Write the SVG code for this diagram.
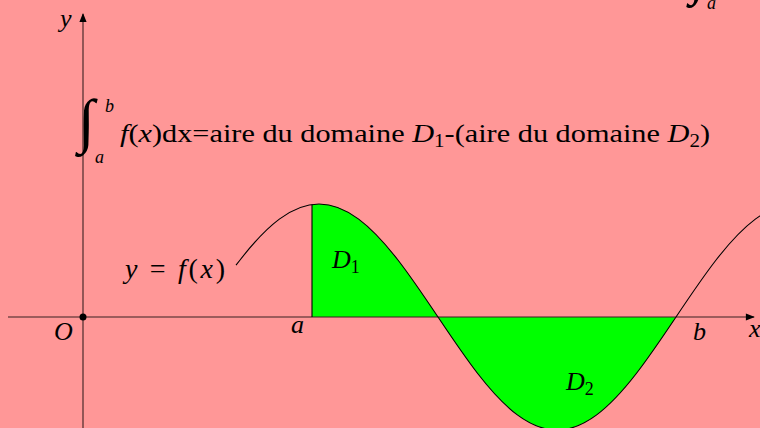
<svg xmlns="http://www.w3.org/2000/svg" width="760" height="428" viewBox="0 0 760 428">
<defs>
<style>
.t{font-family:"Liberation Serif","DejaVu Serif",serif;fill:#000;font-size:26px}
.i{font-style:italic}
.s{font-size:18px;font-style:normal}
.ax{stroke:#3a2020;stroke-width:1.1;fill:none}
.cv{stroke:#000;stroke-width:1.1;fill:none}
.fill{fill:#00ff00;stroke:none}
</style>
<marker id="arr" viewBox="0 0 10 10" refX="9" refY="5" markerWidth="10" markerHeight="9" markerUnits="userSpaceOnUse" orient="auto"><path d="M0,1 L10,5 L0,9 Z" fill="#000"/></marker>
</defs>
<rect x="0" y="0" width="760" height="428" fill="#ff9797"/>
<g id="domaines">
<path id="D1" class="fill" d="M312,317 L312,204.5 L319,204 C332.22,204 345.45,209.28 358.67,219.14 C371.89,229 385.11,243.42 398.33,260.5 C411.55,277.58 424.78,297.28 438,317 Z"/>
<path id="D2" class="fill" d="M438,317 C451.22,336.72 464.45,356.42 477.67,373.5 C490.89,390.58 504.11,405 517.33,414.86 C530.55,424.72 543.78,430 557,430 C570.22,430 583.45,424.72 596.67,414.86 C609.89,405 623.11,390.58 636.33,373.5 C649.55,356.42 662.78,336.72 676,317 Z"/>
</g>
<g id="connectors">
<line class="ax" x1="8" y1="317" x2="754" y2="317" marker-end="url(#arr)"/>
<line class="ax" x1="83" y1="428" x2="83" y2="14" marker-end="url(#arr)"/>
<line class="cv" x1="312" y1="317" x2="312" y2="204.5"/>
<circle cx="83" cy="317" r="3.5" fill="#000"/>
<path id="curve" class="cv" d="M236,265.2 L239.67,260.5 C252.89,243.42 266.11,229 279.33,219.14 C292.55,209.28 305.78,204 319,204 C332.22,204 345.45,209.28 358.67,219.14 C371.89,229 385.11,243.42 398.33,260.5 C411.55,277.58 424.78,297.28 438,317 C451.22,336.72 464.45,356.42 477.67,373.5 C490.89,390.58 504.11,405 517.33,414.86 C530.55,424.72 543.78,430 557,430 C570.22,430 583.45,424.72 596.67,414.86 C609.89,405 623.11,390.58 636.33,373.5 C649.55,356.42 662.78,336.72 676,317 C689.22,297.28 702.45,277.58 715.67,260.5 C728.89,243.42 742.11,229 755.33,219.14 C768.55,209.28 781.78,204 795,204"/>
</g>
<g id="labels">
<text class="t i" x="60" y="27">y</text>
<text class="t i" x="54" y="340">O</text>
<text class="t i" x="291" y="333">a</text>
<text class="t i" x="693" y="340">b</text>
<text class="t i" x="749" y="337">x</text>
<text class="t" x="125" y="278" style="font-size:28px" textLength="100" lengthAdjust="spacing"><tspan class="i">y</tspan> = <tspan class="i">f</tspan>(<tspan class="i">x</tspan>)</text>
<text class="t i" x="332" y="268">D<tspan class="s" dy="5">1</tspan></text>
<text class="t i" x="566" y="390">D<tspan class="s" dy="5">2</tspan></text>
</g>
<g id="formula">
<text class="t i" x="78" y="141" style="font-size:60px">∫</text>
<text class="t i" x="105" y="112" style="font-size:18px">b</text>
<text class="t i" x="95" y="163" style="font-size:18px">a</text>
<text class="t" x="120" y="142" textLength="590" lengthAdjust="spacingAndGlyphs"><tspan class="i">f</tspan>(<tspan class="i">x</tspan>)dx=aire du domaine <tspan class="i">D</tspan><tspan class="s" dy="5">1</tspan><tspan dy="-5">-(aire du domaine </tspan><tspan class="i">D</tspan><tspan class="s" dy="5">2</tspan><tspan dy="-5">)</tspan></text>
<text class="t i" x="689" y="-7" style="font-size:56px">∫</text>
<text class="t i" x="707" y="9" style="font-size:18px">a</text>
</g>
</svg>
